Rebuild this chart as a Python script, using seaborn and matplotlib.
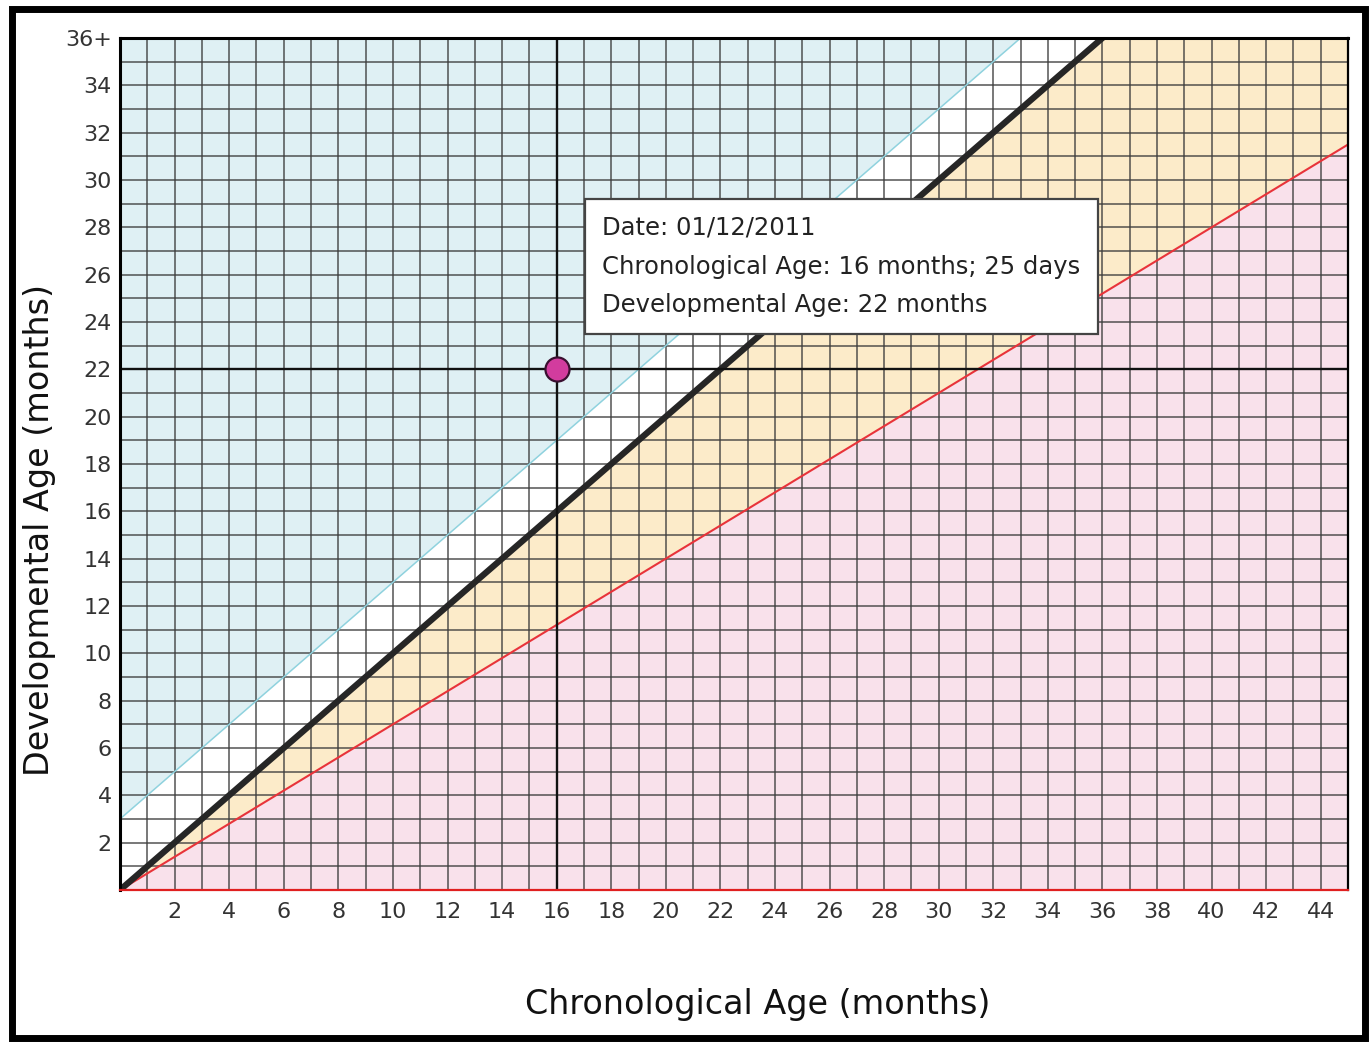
import matplotlib
matplotlib.use("Agg")
import matplotlib.pyplot as plt
from matplotlib.patches import Rectangle
import numpy as np
import seaborn as sns

# chart data (months)
chron_range = [0, 45]          # x extent of the reference lines
typical_line = [0, 45]         # developmental == chronological
advanced_line = [3, 48]        # +3 months band (light blue boundary)
delayed_line = [0, 31.5]       # 70% of chronological (red boundary)
x_ticks = list(range(2, 46, 2))
y_ticks = list(range(2, 37, 2))
y_tick_labels = [str(v) for v in range(2, 36, 2)] + ["36+"]

point_chron = 16
point_dev = 22
tooltip_lines = ["Date: 01/12/2011",
                 "Chronological Age: 16 months; 25 days",
                 "Developmental Age: 22 months"]

x_max, y_max = 45, 36

sns.set_style("white")
plt.rcParams["font.family"] = ["DejaVu Sans"]

fig = plt.figure(figsize=(13.72, 10.42), dpi=100)
ax = fig.add_axes([0.0875, 0.1459, 0.8950, 0.8176])

xs = np.array(chron_range, dtype=float)
# coloured zones
ax.fill_between(xs, advanced_line, y_max, color="#dff0f4", zorder=0, lw=0)
ax.fill_between(xs, typical_line, advanced_line, color="white", zorder=0, lw=0)
ax.fill_between(xs, delayed_line, typical_line, color="#fcebc9", zorder=0, lw=0)
ax.fill_between(xs, 0, delayed_line, color="#f9e1eb", zorder=0, lw=0)

# grid every month
ax.set_xticks(np.arange(0, x_max + 1, 1), minor=True)
ax.set_yticks(np.arange(0, y_max + 1, 1), minor=True)
ax.grid(which="both", color="#3c3c3c", alpha=0.75, lw=1.3, zorder=1)
ax.set_axisbelow(False)

sns.lineplot(x=xs, y=advanced_line, ax=ax, color="#8fd2de", lw=1.1, zorder=3)
sns.lineplot(x=xs, y=delayed_line, ax=ax, color="#e8333a", lw=1.5, zorder=3)
sns.lineplot(x=xs, y=typical_line, ax=ax, color="#262626", lw=4.5, zorder=4)

# crosshair + point
ax.axvline(point_chron, color="#111111", lw=1.7, zorder=4)
ax.axhline(point_dev, color="#111111", lw=1.7, zorder=4)
sns.scatterplot(x=[point_chron], y=[point_dev], ax=ax, s=300, color="#d23c9e",
                edgecolor="#3a1030", linewidth=1.6, zorder=6)

ax.annotate("\n".join(tooltip_lines), xy=(point_chron, point_dev),
            xytext=(33, 74), textcoords="offset points", ha="left", va="center",
            fontsize=17.5, color="#222222", linespacing=1.78, zorder=7,
            bbox=dict(boxstyle="square,pad=0.7", fc="white", ec="#444444", lw=1.6))

ax.set_xlim(0, x_max)
ax.set_ylim(0, y_max)
ax.set_xticks(x_ticks)
ax.set_yticks(y_ticks)
ax.set_yticklabels(y_tick_labels)
ax.tick_params(axis="both", which="both", length=0, labelsize=16, colors="#333333")
ax.tick_params(axis="x", pad=9)
ax.tick_params(axis="y", pad=6)

for side in ["left", "top"]:
    ax.spines[side].set_color("black")
    ax.spines[side].set_linewidth(2.2)
ax.spines["right"].set_color("black")
ax.spines["right"].set_linewidth(1.6)
ax.spines["bottom"].set_color("#e02020")
ax.spines["bottom"].set_linewidth(1.6)
for sp in ax.spines.values():
    sp.set_zorder(8)

ax.set_xlabel("Chronological Age (months)", fontsize=24, color="#111111")
ax.set_ylabel("Developmental Age (months)", fontsize=24, color="#111111")
ax.xaxis.set_label_coords(0.519, -0.115)
ax.yaxis.set_label_coords(-0.052, 0.4225)

# outer frame
fig.patches.append(Rectangle((0.0085, 0.0035), 0.9865, 0.988, transform=fig.transFigure,
                             fill=False, ec="black", lw=5, zorder=10))

fig.savefig("out.png", dpi=100, facecolor="white")
